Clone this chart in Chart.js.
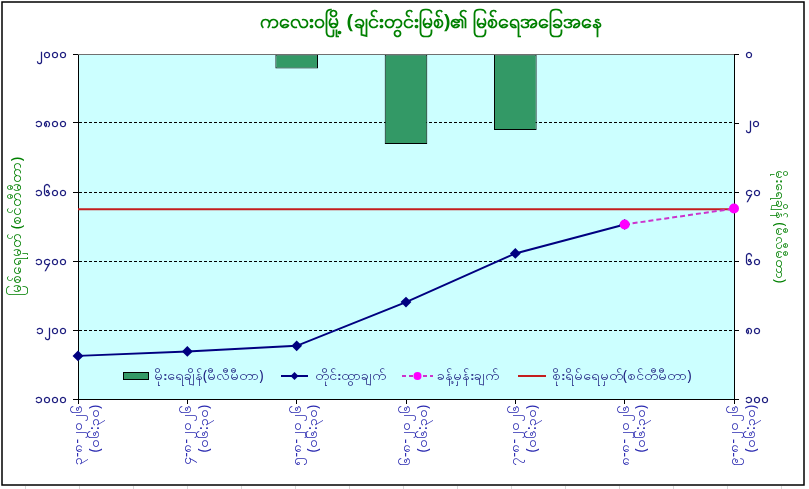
<!DOCTYPE html>
<html>
<head>
<meta charset="utf-8">
<script src="https://cdn.jsdelivr.net/npm/chart.js@4.4.1/dist/chart.umd.min.js"></script>
<style>
  html, body { margin: 0; padding: 0; background: #fff; }
  #wrap { width: 809px; height: 489px; }
</style>
</head>
<body>
<div id="wrap"><canvas id="riverChart" width="809" height="489"></canvas></div>
<script>
// chart data
const dateLabels = [
  ['၃-၈-၂၀၂၆', '(၀၆:၃၀)'],
  ['၄-၈-၂၀၂၆', '(၀၆:၃၀)'],
  ['၅-၈-၂၀၂၆', '(၀၆:၃၀)'],
  ['၆-၈-၂၀၂၆', '(၀၆:၃၀)'],
  ['၇-၈-၂၀၂၆', '(၀၆:၃၀)'],
  ['၈-၈-၂၀၂၆', '(၀၆:၃၀)'],
  ['၉-၈-၂၀၂၆', '(၀၆:၃၀)']
];
const rainfall = [0, 0, 4.2, 26.1, 22.0, 0, 0];
const measured = [1125, 1138, 1154, 1281, 1422, 1506, null];
const forecast = [null, null, null, null, null, 1506, 1552];
const dangerLevel = [1550, 1550, 1550, 1550, 1550, 1550, 1550];

const levelTickValues = [1000, 1200, 1400, 1600, 1800, 2000];
const levelTickLabels = ['၁၀၀၀', '၁၂၀၀', '၁၄၀၀', '၁၆၀၀', '၁၈၀၀', '၂၀၀၀'];
const rainTickValues = [0, 20, 40, 60, 80, 100];
const rainTickLabels = ['၀', '၂၀', '၄၀', '၆၀', '၈၀', '၁၀၀'];

const chartTitle = 'ကလေးဝမြို့ (ချင်းတွင်းမြစ်)၏ မြစ်ရေအခြေအနေ';
const levelAxisTitle = 'မြစ်ရေမှတ် (စင်တီမီတာ)';
const rainAxisTitle = 'မိုးရေချိန် (မီလီမီတာ)';
const seriesNames = ['မိုးရေချိန်(မီလီမီတာ)', 'တိုင်းထွာချက်', 'ခန့်မှန်းချက်', 'စိုးရိမ်ရေမှတ်(စင်တီမီတာ)'];

const FONT = "'Noto Sans', 'DejaVu Sans', sans-serif";
const NAVY = '#1c1c7e';

// background, title, frame and legend
const decorPlugin = {
  id: 'decor',
  beforeDraw(chart) {
    const ctx = chart.ctx;
    const a = chart.chartArea;
    ctx.save();
    ctx.fillStyle = '#ffffff';
    ctx.fillRect(0, 0, chart.width, chart.height);
    // faint sheet cells below the frame
    ctx.strokeStyle = '#d8d8d8';
    ctx.lineWidth = 1;
    for (let x = 25.5; x < chart.width; x += 54) {
      ctx.beginPath();
      ctx.moveTo(x, 486);
      ctx.lineTo(x, chart.height);
      ctx.stroke();
    }
    ctx.fillStyle = '#ccffff';
    ctx.fillRect(a.left, a.top, a.right - a.left, a.bottom - a.top);
    ctx.restore();
  },
  afterDraw(chart) {
    const ctx = chart.ctx;
    const a = chart.chartArea;
    ctx.save();
    // top edge of plot area
    ctx.strokeStyle = '#707070';
    ctx.lineWidth = 1;
    ctx.beginPath();
    ctx.moveTo(a.left, a.top + 0.5);
    ctx.lineTo(a.right, a.top + 0.5);
    ctx.stroke();

    // title
    ctx.font = 'bold 20px ' + FONT;
    ctx.fillStyle = '#008000';
    ctx.textAlign = 'center';
    ctx.textBaseline = 'middle';
    ctx.fillText(chartTitle, 431, 22);
    ctx.textAlign = 'left';

    // legend along the bottom of the plot area
    const y = a.bottom - 23;
    ctx.font = '14px ' + FONT;

    ctx.fillStyle = '#339966';
    ctx.fillRect(123, y - 4, 25, 7);
    ctx.strokeStyle = '#000';
    ctx.strokeRect(123.5, y - 3.5, 25, 7);
    ctx.fillStyle = NAVY;
    ctx.fillText(seriesNames[0], 154, y);

    ctx.strokeStyle = '#000080';
    ctx.lineWidth = 2;
    ctx.beginPath(); ctx.moveTo(281, y); ctx.lineTo(308, y); ctx.stroke();
    ctx.fillStyle = '#000080';
    ctx.beginPath();
    ctx.moveTo(294.5, y - 4); ctx.lineTo(298.5, y); ctx.lineTo(294.5, y + 4); ctx.lineTo(290.5, y);
    ctx.closePath(); ctx.fill();
    ctx.fillStyle = NAVY;
    ctx.fillText(seriesNames[1], 315, y);

    ctx.strokeStyle = '#cc33cc';
    ctx.setLineDash([4, 3]);
    ctx.beginPath(); ctx.moveTo(402, y); ctx.lineTo(433, y); ctx.stroke();
    ctx.setLineDash([]);
    ctx.fillStyle = '#ff00ff';
    ctx.beginPath(); ctx.arc(417.5, y, 4, 0, Math.PI * 2); ctx.fill();
    ctx.fillStyle = NAVY;
    ctx.fillText(seriesNames[2], 437, y);

    ctx.strokeStyle = '#c41e1e';
    ctx.beginPath(); ctx.moveTo(518, y); ctx.lineTo(546, y); ctx.stroke();
    ctx.fillText(seriesNames[3], 552, y);

    // outer frame
    ctx.strokeStyle = '#000';
    ctx.lineWidth = 1.5;
    ctx.strokeRect(2, 2, 802, 483);
    ctx.restore();
  }
};

const ctx = document.getElementById('riverChart').getContext('2d');

new Chart(ctx, {
  type: 'bar',
  data: {
    labels: dateLabels,
    datasets: [
      {
        type: 'line',
        label: seriesNames[2],
        data: forecast,
        yAxisID: 'y',
        borderColor: '#cc33cc',
        borderWidth: 2,
        borderDash: [5, 3],
        pointStyle: 'circle',
        pointRadius: 4,
        pointBackgroundColor: '#ff00ff',
        pointBorderColor: '#ff00ff',
        clip: false,
        order: 0
      },
      {
        type: 'line',
        label: seriesNames[1],
        data: measured,
        yAxisID: 'y',
        borderColor: '#000080',
        borderWidth: 2,
        pointStyle: 'rectRot',
        pointRadius: 4,
        pointBackgroundColor: '#000080',
        pointBorderColor: '#000080',
        clip: false,
        order: 1
      },
      {
        type: 'line',
        label: seriesNames[3],
        data: dangerLevel,
        yAxisID: 'y',
        borderColor: '#c41e1e',
        borderWidth: 2,
        pointRadius: 0,
        order: 2
      },
      {
        type: 'bar',
        label: seriesNames[0],
        data: rainfall,
        yAxisID: 'y1',
        backgroundColor: '#339966',
        borderColor: '#000000',
        borderWidth: 1,
        borderSkipped: false,
        categoryPercentage: 1,
        barPercentage: 0.39,
        order: 3
      }
    ]
  },
  options: {
    responsive: false,
    animation: false,
    layout: { padding: { left: 5, right: 5, top: 54, bottom: 0 } },
    plugins: {
      legend: { display: false },
      tooltip: { enabled: false },
      title: { display: false }
    },
    scales: {
      x: {
        offset: false,
        grid: { display: true, offset: false, drawOnChartArea: false, color: '#000', tickLength: 5 },
        border: { color: '#000', width: 1 },
        ticks: {
          color: '#2a2ab0',
          font: { family: FONT, size: 14 },
          minRotation: 90,
          maxRotation: 90,
          autoSkip: false,
          padding: 1
        },
        afterFit(scale) { scale.height = 90; }
      },
      y: {
        position: 'left',
        min: 1000,
        max: 2000,
        ticks: {
          stepSize: 200,
          color: NAVY,
          font: { family: FONT, size: 13, weight: 'bold' },
          padding: 6,
          callback: (value) => levelTickLabels[levelTickValues.indexOf(value)]
        },
        grid: { color: '#000', lineWidth: 1, tickLength: 5, tickColor: '#000' },
        border: { color: '#000', width: 1, dash: [3, 2] },
        title: {
          display: true,
          text: levelAxisTitle,
          color: '#008000',
          font: { family: FONT, size: 15 },
          padding: { top: 3, bottom: 0 }
        },
        afterFit(scale) { scale.width = 73; }
      },
      y1: {
        position: 'right',
        min: 0,
        max: 100,
        reverse: true,
        ticks: {
          stepSize: 20,
          color: NAVY,
          font: { family: FONT, size: 13, weight: 'bold' },
          padding: 6,
          callback: (value) => rainTickLabels[rainTickValues.indexOf(value)]
        },
        grid: { drawOnChartArea: false, color: '#000', tickLength: 5 },
        border: { color: '#000', width: 1 },
        title: {
          display: true,
          text: rainAxisTitle,
          color: '#008000',
          font: { family: FONT, size: 14 },
          padding: { top: 16, bottom: 0 }
        },
        afterFit(scale) { scale.width = 70; }
      }
    }
  },
  plugins: [decorPlugin]
});
</script>
</body>
</html>
